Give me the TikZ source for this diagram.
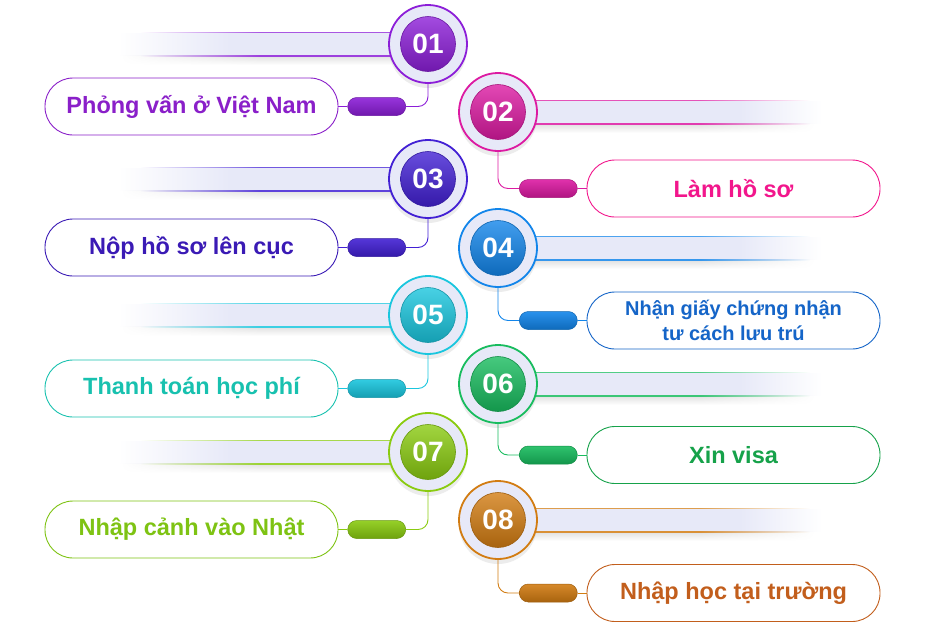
\documentclass[tikz,border=0pt]{standalone}
\usepackage{fontspec}
\setmainfont{Liberation Sans}
\usetikzlibrary{positioning, shadows, fadings}

% circle colours
\definecolor{violetS}{HTML}{8C1ED8}
\definecolor{pinkS}{HTML}{DC1AA2}
\definecolor{indigoS}{HTML}{4220D4}
\definecolor{blueS}{HTML}{1285EA}
\definecolor{cyanS}{HTML}{1AC6DE}
\definecolor{greenS}{HTML}{18BC5E}
\definecolor{limeS}{HTML}{8ACB10}
\definecolor{orangeS}{HTML}{D27C12}
% text colours
\definecolor{violetT}{HTML}{8A1FC9}
\definecolor{pinkT}{HTML}{F2168C}
\definecolor{indigoT}{HTML}{3A1AB5}
\definecolor{blueT}{HTML}{1565C8}
\definecolor{cyanT}{HTML}{18C1AF}
\definecolor{greenT}{HTML}{16A24A}
\definecolor{limeT}{HTML}{7EC313}
\definecolor{orangeT}{HTML}{C25E1C}
\definecolor{ringfill}{HTML}{E7E9F8}

\begin{document}
\begin{tikzpicture}[
    x=1pt, y=-1pt,
    ring/.style={circle, minimum size=78pt, inner sep=0pt, fill=ringfill, draw=#1, line width=1.8pt,
      drop shadow={opacity=0.15, shadow xshift=0pt, shadow yshift=-5pt}},
    disk/.style={circle, minimum size=55pt, inner sep=0pt, top color=#1!80!white, bottom color=#1!80!black,
      draw=#1!75!black, line width=0.6pt, text=white, font=\fontsize{28}{28}\selectfont\bfseries},
    pill/.style={rectangle, rounded corners=9pt, minimum width=58pt, minimum height=18pt, inner sep=0pt,
      top color=#1!90!white, bottom color=#1!80!black, draw=#1!75!black, line width=0.5pt},
    stepbox/.style={rectangle, rounded corners=28pt, minimum width=293pt, minimum height=57pt, draw=#1,
      line width=0.9pt, fill=white, text=#1, align=center, font=\fontsize{23.5}{27}\selectfont\bfseries},
    link/.style={draw=#1, line width=0.9pt, rounded corners=10pt}
  ]
  \useasboundingbox (0,0) rectangle (928,622);

  % Bars on the left
  \foreach \cy/\col in {44/violetS, 179/indigoS, 315/cyanS, 452/limeS}{
    \shade[top color=black!13, bottom color=white, path fading=west] (120,\cy+11) rectangle (260,\cy+21);
    \shade[top color=black!13, bottom color=white] (260,\cy+11) rectangle (428,\cy+21);
    \fill[ringfill, path fading=west] (118,\cy-11.5) rectangle (230,\cy+11.5);
    \fill[ringfill] (230,\cy-11.5) rectangle (428,\cy+11.5);
    \fill[\col!75!white, path fading=west] (140,\cy-12.5) rectangle (260,\cy-10.8);
    \fill[\col!75!white] (260,\cy-12.5) rectangle (428,\cy-10.8);
    \fill[\col!85!white, path fading=west] (140,\cy+10.8) rectangle (260,\cy+12.5);
    \fill[\col!85!white] (260,\cy+10.8) rectangle (428,\cy+12.5);
  }
  % Bars on the right
  \foreach \cy/\col in {112/pinkS, 248/blueS, 384/greenS, 520/orangeS}{
    \shade[top color=black!13, bottom color=white] (498,\cy+11) rectangle (700,\cy+21);
    \shade[top color=black!13, bottom color=white, path fading=east] (700,\cy+11) rectangle (815,\cy+21);
    \fill[ringfill] (498,\cy-11.5) rectangle (740,\cy+11.5);
    \fill[ringfill, path fading=east] (740,\cy-11.5) rectangle (822,\cy+11.5);
    \fill[\col!75!white] (498,\cy-12.5) rectangle (700,\cy-10.8);
    \fill[\col!75!white, path fading=east] (700,\cy-12.5) rectangle (810,\cy-10.8);
    \fill[\col!85!white] (498,\cy+10.8) rectangle (700,\cy+12.5);
    \fill[\col!85!white, path fading=east] (700,\cy+10.8) rectangle (810,\cy+12.5);
  }

  % Step 01
  \node[ring=violetS] (c1) at (428,44) {};
  \node[disk=violetS] (n1) at (c1) {01};
  \node[stepbox=violetT] (b1) at (191.5,106.5) {Phỏng vấn ở Việt Nam};
  \node[pill=violetS, right=9pt of b1] (p1) {};

  % Step 02
  \node[ring=pinkS] (c2) at (498,112) {};
  \node[disk=pinkS] (n2) at (c2) {02};
  \node[stepbox=pinkT] (b2) at (733.5,188.5) {Làm hồ sơ};
  \node[pill=pinkS, left=9pt of b2] (p2) {};

  % Step 03
  \node[ring=indigoS] (c3) at (428,179) {};
  \node[disk=indigoS] (n3) at (c3) {03};
  \node[stepbox=indigoT] (b3) at (191.5,247.5) {Nộp hồ sơ lên cục};
  \node[pill=indigoS, right=9pt of b3] (p3) {};

  % Step 04
  \node[ring=blueS] (c4) at (498,248) {};
  \node[disk=blueS] (n4) at (c4) {04};
  \node[stepbox=blueT, font=\fontsize{20}{25}\selectfont\bfseries] (b4) at (733.5,320.5) {Nhận giấy chứng nhận\\tư cách lưu trú};
  \node[pill=blueS, left=9pt of b4] (p4) {};

  % Step 05
  \node[ring=cyanS] (c5) at (428,315) {};
  \node[disk=cyanS] (n5) at (c5) {05};
  \node[stepbox=cyanT] (b5) at (191.5,388.5) {Thanh toán học phí};
  \node[pill=cyanS, right=9pt of b5] (p5) {};

  % Step 06
  \node[ring=greenS] (c6) at (498,384) {};
  \node[disk=greenS] (n6) at (c6) {06};
  \node[stepbox=greenT] (b6) at (733.5,455) {Xin visa};
  \node[pill=greenS, left=9pt of b6] (p6) {};

  % Step 07
  \node[ring=limeS] (c7) at (428,452) {};
  \node[disk=limeS] (n7) at (c7) {07};
  \node[stepbox=limeT] (b7) at (191.5,529.5) {Nhập cảnh vào Nhật};
  \node[pill=limeS, right=9pt of b7] (p7) {};

  % Step 08
  \node[ring=orangeS] (c8) at (498,520) {};
  \node[disk=orangeS] (n8) at (c8) {08};
  \node[stepbox=orangeT] (b8) at (733.5,593) {Nhập học tại trường};
  \node[pill=orangeS, left=9pt of b8] (p8) {};

  % Links
  \draw[link=violetS] (c1.south) |- (p1.east);
  \draw[link=violetS] (b1.east) -- (p1.west);
  \draw[link=pinkS] (c2.south) |- (p2.west);
  \draw[link=pinkS] (b2.west) -- (p2.east);
  \draw[link=indigoS] (c3.south) |- (p3.east);
  \draw[link=indigoS] (b3.east) -- (p3.west);
  \draw[link=blueS] (c4.south) |- (p4.west);
  \draw[link=blueS] (b4.west) -- (p4.east);
  \draw[link=cyanS] (c5.south) |- (p5.east);
  \draw[link=cyanS] (b5.east) -- (p5.west);
  \draw[link=greenS] (c6.south) |- (p6.west);
  \draw[link=greenS] (b6.west) -- (p6.east);
  \draw[link=limeS] (c7.south) |- (p7.east);
  \draw[link=limeS] (b7.east) -- (p7.west);
  \draw[link=orangeS] (c8.south) |- (p8.west);
  \draw[link=orangeS] (b8.west) -- (p8.east);
\end{tikzpicture}
\end{document}
